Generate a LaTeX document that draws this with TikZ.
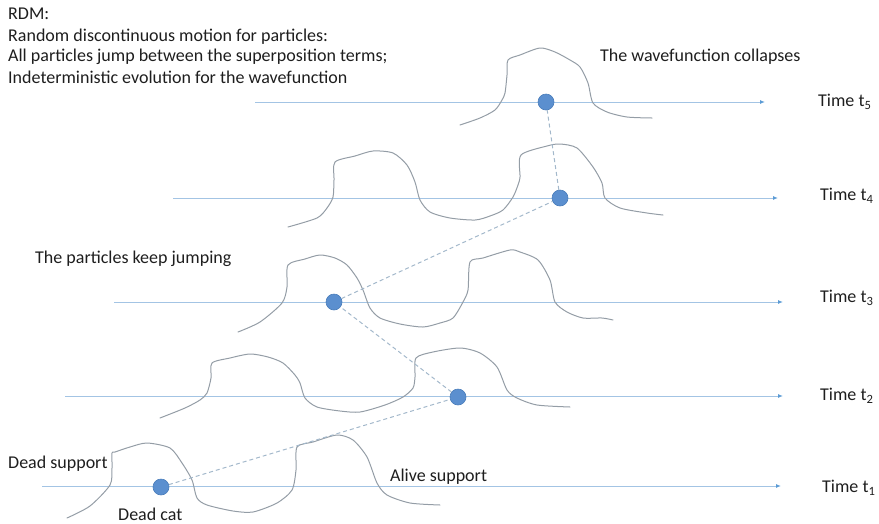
\documentclass[tikz,border=0pt]{standalone}
\usepackage{fontspec}
\setmainfont{Carlito}
\usetikzlibrary{arrows.meta}
\definecolor{axiscol}{HTML}{A3C4E4}
\definecolor{tipcol}{HTML}{5B9BD5}
\definecolor{dotcol}{HTML}{5B8FCF}
\definecolor{dotedge}{HTML}{4A7DBA}
\definecolor{wavecol}{HTML}{949DA6}
\definecolor{jumpcol}{HTML}{A3B8CB}
\definecolor{txtcol}{HTML}{1E1E1E}
\tikzset{
  axisline/.style={draw=axiscol, line width=1pt, -{Latex[length=5pt,width=4pt,color=tipcol]}},
  particle/.style={circle, fill=dotcol, draw=dotedge, line width=0.6pt, minimum size=16pt, inner sep=0pt},
  wave/.style={draw=wavecol, line width=1pt, line join=round, line cap=round},
  jump/.style={draw=jumpcol, line width=1pt, dash pattern=on 4pt off 3pt},
  lbl/.style={anchor=west, inner sep=0pt, text=txtcol, font=\fontsize{18}{21}\selectfont},
}
\begin{document}
\begin{tikzpicture}[x=1pt,y=-1pt]
\useasboundingbox (0,0) rectangle (879,523);

% texts
\node[lbl] (rdm) at (8,14) {RDM:};
\node[lbl] (rdm2) at (8,37) {Random discontinuous motion for particles:};
\node[lbl] (rdm3) at (8,57) {All particles jump between the superposition terms;};
\node[lbl] (rdm4) at (8,77) {Indeterministic evolution for the wavefunction};
\node[lbl] (collapse) at (600,57) {The wavefunction collapses};
\node[lbl] (keep) at (35,259) {The particles keep jumping};
\node[lbl] (dead) at (8,464) {Dead support};
\node[lbl] (deadcat) at (118,514) {Dead cat};
\node[lbl] (alive) at (390,477) {Alive support};

% time labels
\node[lbl] (t5) at (818,102) {Time t\textsubscript{5}};
\node[lbl] (t4) at (820,196) {Time t\textsubscript{4}};
\node[lbl] (t3) at (820,298) {Time t\textsubscript{3}};
\node[lbl] (t2) at (820,396) {Time t\textsubscript{2}};
\node[lbl] (t1) at (822,488) {Time t\textsubscript{1}};

% axes
\coordinate (a5s) at (255,102); \coordinate (a5e) at (765,102);
\coordinate (a4s) at (173,198); \coordinate (a4e) at (778,198);
\coordinate (a3s) at (114,302); \coordinate (a3e) at (783,302);
\coordinate (a2s) at (65,396);  \coordinate (a2e) at (783,396);
\coordinate (a1s) at (42,486);  \coordinate (a1e) at (781,486);
\draw[axisline] (a5s) -- (a5e);
\draw[axisline] (a4s) -- (a4e);
\draw[axisline] (a3s) -- (a3e);
\draw[axisline] (a2s) -- (a2e);
\draw[axisline] (a1s) -- (a1e);

% waves
\draw[wave] plot[smooth, tension=0.45] coordinates {(67,518) (90,506) (110,485) (112,468) (112,453) (115,452) (130,447) (147,443) (170,448) (182,463) (192,480) (197,498) (207,505) (233,511) (253,512) (277,503) (292,490) (296,470) (297,447) (313,442) (337,435) (353,440) (367,457) (377,483) (387,495) (410,503) (440,505)};
\draw[wave] plot[smooth, tension=0.45] coordinates {(160,418) (185,408) (200,400) (207,393) (211,378) (212,363) (230,358) (250,354) (268,357) (283,363) (295,375) (300,383) (305,398) (317,407) (340,411) (360,412) (385,405) (403,397) (413,388) (415,377) (416,358) (433,352) (460,348) (480,353) (497,367) (507,390) (517,398) (537,405) (570,407)};
\draw[wave] plot[smooth, tension=0.45] coordinates {(238,332) (260,322) (282,303) (287,287) (288,265) (305,259) (320,255) (335,258) (347,265) (357,278) (363,290) (370,308) (380,318) (400,324) (423,327) (440,323) (453,318) (463,302) (468,290) (470,262) (483,258) (510,250) (520,252) (538,260) (550,280) (555,302) (567,312) (583,318) (602,318) (613,320)};
\draw[wave] plot[smooth, tension=0.45] coordinates {(288,227) (317,218) (327,208) (333,197) (334,180) (335,162) (355,156) (373,151) (393,153) (407,165) (415,182) (420,200) (430,212) (450,218) (475,220) (490,216) (503,210) (513,197) (518,185) (520,177) (521,155) (547,146) (560,144) (577,148) (593,167) (602,183) (605,198) (620,208) (647,213) (663,215)};
\draw[wave] plot[smooth, tension=0.45] coordinates {(460,125) (480,118) (495,110) (502,100) (505,93) (507,75) (508,60) (520,55) (540,48) (555,52) (570,60) (580,67) (588,83) (593,103) (607,112) (627,117) (652,118)};

% particles
\node[particle] (p5) at (546,102) {};
\node[particle] (p4) at (560,198) {};
\node[particle] (p3) at (334,302) {};
\node[particle] (p2) at (458,397) {};
\node[particle] (p1) at (161,487) {};

% jumps
\draw[jump] (p1) -- (p2);
\draw[jump] (p2) -- (p3);
\draw[jump] (p3) -- (p4);
\draw[jump] (p4) -- (p5);
\end{tikzpicture}
\end{document}
